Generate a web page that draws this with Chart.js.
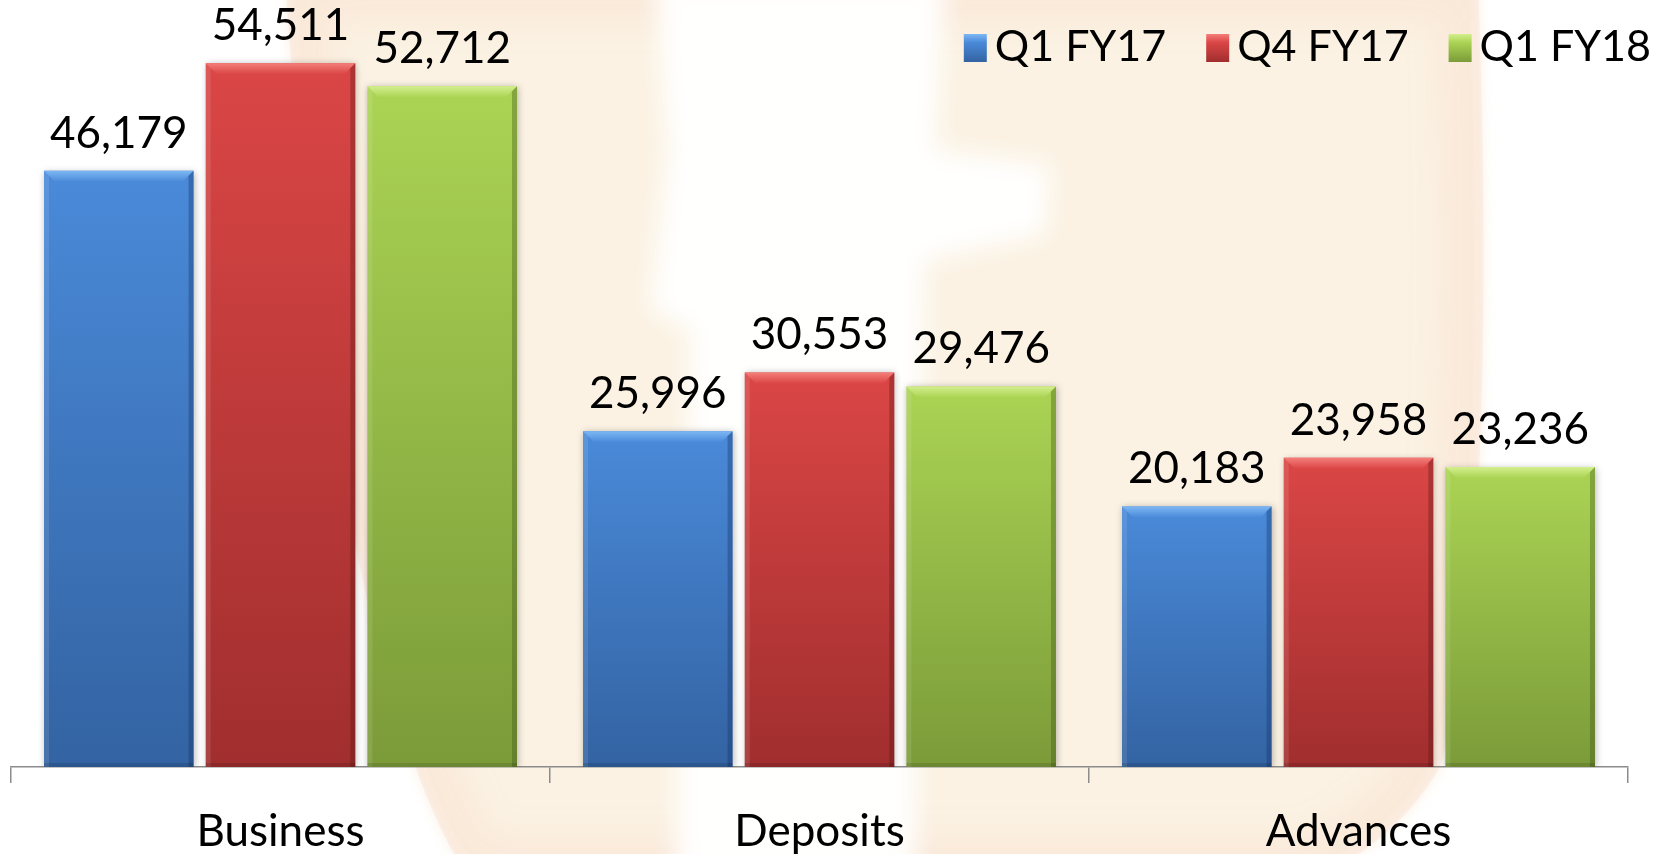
<!DOCTYPE html>
<html><head><meta charset="utf-8">
<script src="https://cdn.jsdelivr.net/npm/chart.js@4.4.1/dist/chart.umd.min.js"></script>
<style>html,body{margin:0;padding:0;background:#fff;overflow:hidden}#wrap{width:1662px;height:854px;position:relative}</style>
</head><body><div id="wrap"><canvas id="c" width="1662" height="854"></canvas></div>
<script>
// ---- data ----
const categories = ['Business', 'Deposits', 'Advances'];
const seriesNames = ['Q1 FY17', 'Q4 FY17', 'Q1 FY18'];
const q1fy17 = [46179, 25996, 20183];
const q4fy17 = [54511, 30553, 23958];
const q1fy18 = [52712, 29476, 23236];
const yMax = 59400;

// ---- styles ----
const FONT = 'Lato, "Open Sans", sans-serif';
const FSIZE = 44;
const LEG_FSIZE = 43;
const palette = [
  {top: '#4a8ad9', bottom: '#3363a2', bevel: '#7db7f3', edge: 'rgba(20,50,100,0.35)'},
  {top: '#db4646', bottom: '#a12e2e', bevel: '#f47f7a', edge: 'rgba(90,20,20,0.35)'},
  {top: '#abd454', bottom: '#7b9b39', bevel: '#d3ef8e', edge: 'rgba(60,80,20,0.35)'}
];

function barFill(i) {
  return (ctx) => {
    const chart = ctx.chart;
    const ys = chart.scales && chart.scales.y;
    if (!ys || ctx.raw == null) return palette[i].top;
    const yTop = ys.getPixelForValue(ctx.raw);
    const yBot = ys.getPixelForValue(0);
    if (!isFinite(yTop) || !isFinite(yBot) || yBot <= yTop) return palette[i].top;
    const g = chart.ctx.createLinearGradient(0, yTop, 0, yBot);
    g.addColorStop(0, palette[i].top);
    g.addColorStop(1, palette[i].bottom);
    return g;
  };
}

function emblemPath(c) {
  c.beginPath();
  c.moveTo(285, -20);
  c.lineTo(1478, -20);
  c.bezierCurveTo(1490, 300, 1485, 620, 1440, 767);
  c.bezierCurveTo(1410, 820, 1360, 860, 1310, 880);
  c.lineTo(470, 880);
  c.bezierCurveTo(400, 780, 320, 500, 285, -20);
  c.closePath();
}

const backdrop = {
  id: 'backdrop',
  beforeDraw(chart) {
    const c = chart.ctx;
    c.save();
    c.fillStyle = '#ffffff';
    c.fillRect(0, 0, chart.width, chart.height);
    // faint emblem watermark
    c.save();
    c.filter = 'blur(6px)';
    emblemPath(c);
    c.fillStyle = '#fbf2e3';
    c.fill();
    c.restore();
    // very faint reddish rim
    c.save();
    emblemPath(c);
    c.clip();
    c.filter = 'blur(18px)';
    emblemPath(c);
    c.lineWidth = 80;
    c.strokeStyle = 'rgba(240,140,120,0.09)';
    c.stroke();
    c.restore();
    // white figure silhouette (soft)
    c.save();
    c.filter = 'blur(12px)';
    c.fillStyle = 'rgba(255,255,255,0.97)';
    c.beginPath();
    c.moveTo(655, -20);
    c.lineTo(945, -20);
    c.lineTo(935, 150);
    c.lineTo(1050, 165);
    c.lineTo(1045, 235);
    c.lineTo(925, 260);
    c.lineTo(915, 880);
    c.lineTo(675, 880);
    c.lineTo(690, 330);
    c.lineTo(650, 310);
    c.lineTo(668, 150);
    c.closePath();
    c.fill();
    c.restore();
    c.restore();
  }
};

const barDeco = {
  id: 'barDeco',
  beforeDatasetsDraw(chart) {
    const c = chart.ctx;
    c.save();
    c.shadowColor = 'rgba(0,0,0,0.28)';
    c.shadowBlur = 7;
    c.shadowOffsetX = 1;
    c.shadowOffsetY = 1;
  },
  afterDatasetsDraw(chart) {
    const c = chart.ctx;
    c.restore();
    c.save();
    chart.data.datasets.forEach((ds, di) => {
      const meta = chart.getDatasetMeta(di);
      const p = palette[di];
      meta.data.forEach((bar) => {
        const w = bar.width, l = bar.x - w / 2, r = bar.x + w / 2, t = bar.y, b = bar.base;
        const bv = 11;
        const g = c.createLinearGradient(0, t, 0, t + bv);
        g.addColorStop(0, p.bevel);
        g.addColorStop(1, p.top);
        c.fillStyle = g;
        c.beginPath();
        c.moveTo(l, t); c.lineTo(r, t); c.lineTo(r - bv, t + bv); c.lineTo(l + bv, t + bv); c.closePath();
        c.fill();
        c.fillStyle = p.edge;
        c.beginPath();
        c.moveTo(r, t); c.lineTo(r, b); c.lineTo(r - 5, b); c.lineTo(r - 5, t + 5); c.closePath();
        c.fill();
        c.fillStyle = 'rgba(255,255,255,0.10)';
        c.beginPath();
        c.moveTo(l, t); c.lineTo(l + 5, t + 5); c.lineTo(l + 5, b); c.lineTo(l, b); c.closePath();
        c.fill();
        c.fillStyle = 'rgba(0,0,0,0.12)';
        c.fillRect(l, b - 4, w, 4);
      });
    });
    c.fillStyle = '#000';
    c.font = FSIZE + 'px ' + FONT;
    c.textAlign = 'center';
    c.textBaseline = 'alphabetic';
    chart.data.datasets.forEach((ds, di) => {
      const meta = chart.getDatasetMeta(di);
      meta.data.forEach((bar, k) => {
        c.fillText(ds.data[k].toLocaleString('en-US'), bar.x, bar.y - 23);
      });
    });
    c.restore();
  }
};

const legendDraw = {
  id: 'legendDraw',
  afterDraw(chart) {
    const c = chart.ctx;
    c.save();
    c.font = LEG_FSIZE + 'px ' + FONT;
    c.textBaseline = 'alphabetic';
    c.textAlign = 'left';
    const boxW = 23, boxH = 28, boxGap = 8, itemGap = 40, rightEdge = 1651, boxTop = 34;
    const items = chart.data.datasets.map((ds, i) => ({label: ds.label, i, tw: c.measureText(ds.label).width}));
    let total = 0;
    items.forEach((it, k) => { total += boxW + boxGap + it.tw + (k < items.length - 1 ? itemGap : 0); });
    let x = rightEdge - total;
    items.forEach((it) => {
      const p = palette[it.i];
      const g = c.createLinearGradient(0, boxTop, 0, boxTop + boxH);
      g.addColorStop(0, p.bevel);
      g.addColorStop(0.3, p.top);
      g.addColorStop(1, p.bottom);
      c.fillStyle = g;
      c.fillRect(x, boxTop, boxW, boxH);
      c.fillStyle = '#000';
      c.fillText(it.label, x + boxW + boxGap, 61);
      x += boxW + boxGap + it.tw + itemGap;
    });
    c.restore();
  }
};

const datasets = [q1fy17, q4fy17, q1fy18].map((vals, i) => ({
  label: seriesNames[i],
  data: vals,
  backgroundColor: barFill(i),
  borderWidth: 0,
  categoryPercentage: 0.9,
  barPercentage: 0.925
}));

new Chart(document.getElementById('c'), {
  type: 'bar',
  data: {labels: categories, datasets},
  options: {
    responsive: false,
    animation: false,
    devicePixelRatio: 1,
    layout: {padding: {left: 11, right: 34, top: 0, bottom: 0}},
    plugins: {legend: {display: false}, tooltip: {enabled: false}},
    scales: {
      x: {
        offset: true,
        grid: {display: true, offset: true, drawOnChartArea: false, drawTicks: true, tickLength: 16, color: '#8c8c8c', lineWidth: 1.5},
        border: {display: true, color: '#8c8c8c', width: 1.5},
        ticks: {color: '#000', font: {family: FONT, size: FSIZE}, padding: 22, maxRotation: 0, autoSkip: false},
        afterFit: (s) => { s.height = 87; }
      },
      y: {display: false, min: 0, max: yMax}
    }
  },
  plugins: [backdrop, barDeco, legendDraw]
});
</script>
</body></html>
